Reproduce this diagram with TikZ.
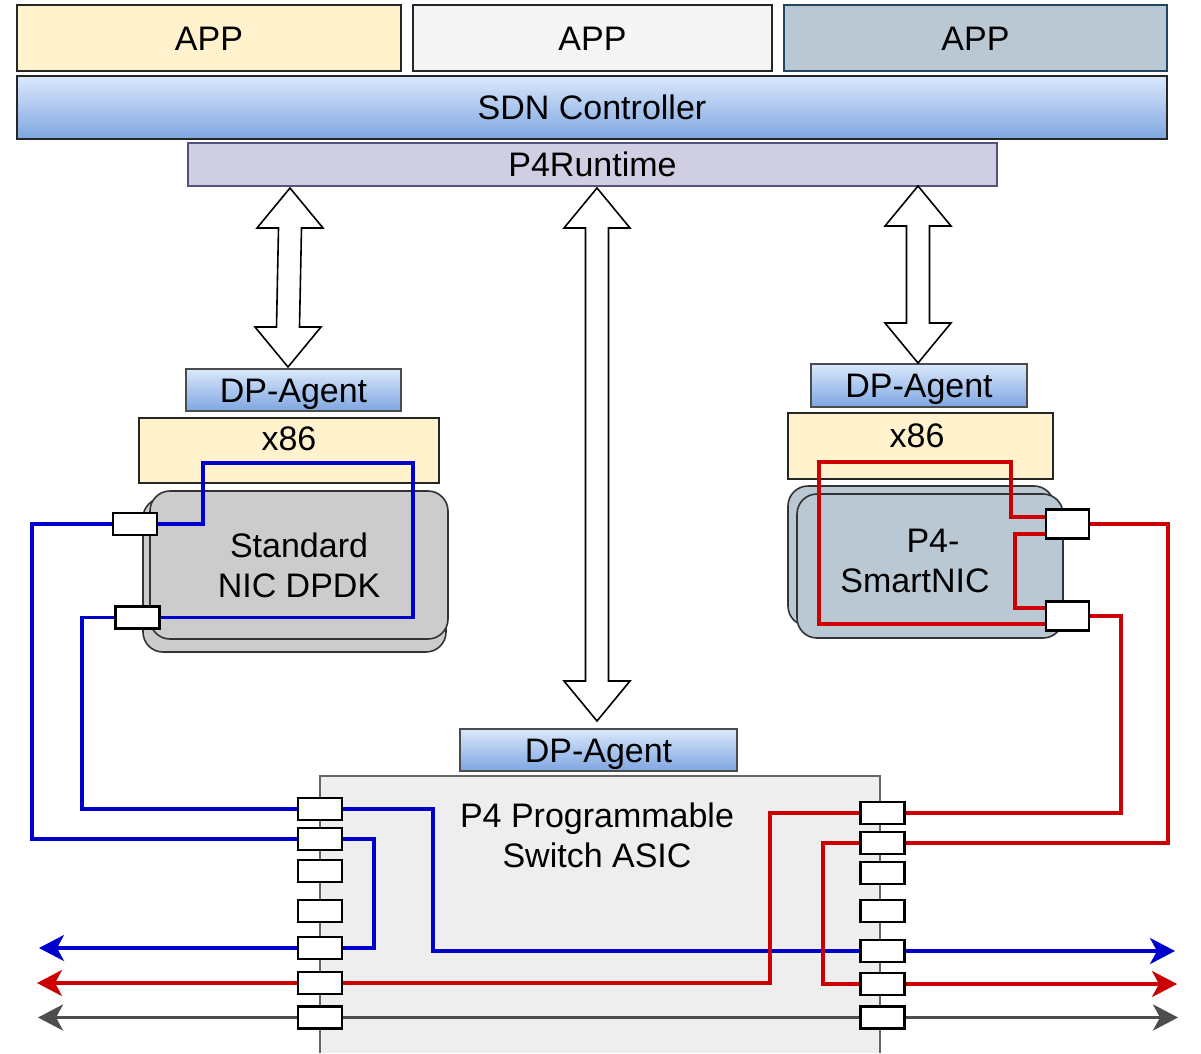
\documentclass[tikz,border=0pt]{standalone}
\usepackage{fontspec}
\setmainfont{Liberation Sans}
\usetikzlibrary{arrows.meta,calc}
\pgfdeclarelayer{front}
\pgfsetlayers{main,front}
\definecolor{appyellow}{HTML}{FFF2CC}
\definecolor{appwhite}{HTML}{F5F5F5}
\definecolor{appblue}{HTML}{BAC8D3}
\definecolor{appblueb}{HTML}{23445D}
\definecolor{gradtop}{HTML}{DAE8FC}
\definecolor{gradbot}{HTML}{7EA6E0}
\definecolor{rtfill}{HTML}{D0CEE2}
\definecolor{rtdraw}{HTML}{56517E}
\definecolor{nicgray}{HTML}{CCCCCC}
\definecolor{swfill}{HTML}{EEEEEE}
\definecolor{swdraw}{HTML}{666666}
\definecolor{lnblue}{HTML}{0000CC}
\definecolor{lnred}{HTML}{CC0000}
\definecolor{lngray}{HTML}{4D4D4D}
\begin{document}
\begin{tikzpicture}[x=1pt,y=-1pt,
  every node/.style={inner sep=0pt, outer sep=0pt, font=\fontsize{34}{40}\selectfont},
  box/.style={draw=black!85, line width=1.6pt, text height=24.3pt, text depth=0pt},
  agent/.style={box, draw=black!70, top color=gradtop, bottom color=gradbot},
  nicbox/.style={draw=black!80, line width=1.6pt, rounded corners=20pt},
  port/.style={draw=black, line width=2.2pt, fill=white, minimum width=44pt, minimum height=22pt},
  bigport/.style={port, minimum width=43pt, minimum height=29pt},
  blueline/.style={draw=lnblue, line width=3.5pt},
  redline/.style={draw=lnred, line width=3.5pt},
  grayline/.style={draw=lngray, line width=3.5pt},
  blockarrow/.style={draw=black, line width=1.6pt, fill=white, line join=miter},
  hd/.tip={Stealth[length=25pt,width=26pt,inset=7pt]}]
\useasboundingbox (0,0) rectangle (1201,1053);

% top layer
\node[box, fill=appyellow, minimum width=384pt, minimum height=66pt] (app1) at (209,38) {APP};
\node[box, fill=appwhite, minimum width=359pt, minimum height=66pt] (app2) at (592.5,38) {APP};
\node[box, draw=appblueb, fill=appblue, minimum width=383pt, minimum height=66pt] (app3) at (975.5,38) {APP};
\node[box, top color=gradtop, bottom color=gradbot, minimum width=1150pt, minimum height=63pt] (sdn) at (592,107.5) {SDN Controller};
\node[box, draw=rtdraw, fill=rtfill, minimum width=809pt, minimum height=43pt] (p4rt) at (592.5,164.5) {P4Runtime};

% agents and hosts
\node[agent, minimum width=215pt, minimum height=42pt] (dpL) at (293.5,390) {DP-Agent};
\node[box, fill=appyellow, minimum width=300pt, minimum height=65pt] (x86L) at (289,450.5) {};
\node[text height=24.3pt, text depth=0pt] (x86Ltxt) at (289,438.5) {x86};
\node[agent, minimum width=216pt, minimum height=43pt] (dpR) at (919,385.5) {DP-Agent};
\node[box, fill=appyellow, minimum width=265pt, minimum height=66pt] (x86R) at (920.5,446) {};
\node[text height=24.3pt, text depth=0pt] (x86Rtxt) at (917,435) {x86};
\node[agent, minimum width=277pt, minimum height=42pt] (dpS) at (598.5,750) {DP-Agent};

% NICs
\node[nicbox, fill=nicgray, minimum width=303pt, minimum height=154pt] (nicLb) at (294.5,575) {};
\node[nicbox, fill=nicgray, minimum width=298pt, minimum height=148pt, align=center] (nicL) at (299,565) {Standard\\NIC DPDK};
\node[nicbox, fill=appblue, minimum width=266pt, minimum height=140pt] (nicRb) at (921,556) {};
\node[nicbox, fill=appblue, minimum width=266pt, minimum height=144pt] (nicR) at (930,566) {};
\node[align=center] (nicRtxt) at (915,561) {\hspace*{36pt}P4-\\SmartNIC};

% switch
\fill[swfill] (320,1053) rectangle (880,776);
\draw[swdraw, line width=1.5pt] (320,1053) -- (320,776) -- (880,776) -- (880,1053);
\node[align=center] (swtxt) at (597,835) {P4 Programmable\\Switch ASIC};

% block double arrows
\coordinate (aL1) at (290,188); \coordinate (aL2) at (288,367);
\coordinate (aM1) at (597,188); \coordinate (aM2) at (597,721);
\coordinate (aR1) at (918,186); \coordinate (aR2) at (918,363);
\foreach \a/\b in {aL1/aL2, aM1/aM2, aR1/aR2}{
  \draw[blockarrow] let \p1=(\a), \p2=(\b) in
    (\x1,\y1) -- (\x1+33pt,\y1-40pt) -- (\x1+11.5pt,\y1-40pt) -- (\x2+11.5pt,\y2+40pt)
    -- (\x2+33pt,\y2+40pt) -- (\x2,\y2) -- (\x2-33pt,\y2+40pt) -- (\x2-11.5pt,\y2+40pt)
    -- (\x1-11.5pt,\y1-40pt) -- (\x1-33pt,\y1-40pt) -- cycle;
}

% ports (on the front layer, above the links)
\begin{pgfonlayer}{front}
\node[port] (np1) at (135,524) {};
\node[port] (np2) at (137.5,617.5) {};
\node[bigport] (sp1) at (1067.5,524) {};
\node[bigport] (sp2) at (1067.5,616) {};
\foreach \i/\y in {1/809,2/839,3/871,4/911,5/948,6/983,7/1017.5}
  \node[port] (lp\i) at (320,\y) {};
\foreach \i/\y in {1/813,2/843,3/873,4/911,5/951,6/984,7/1017.5}
  \node[port] (rp\i) at (882.5,\y) {};
\end{pgfonlayer}

% blue links
\draw[blueline] (lp1.west) -- ++(-216,0) |- (np2.west);
\draw[blueline] (lp2.west) -- ++(-266,0) |- (np1.west);
\draw[blueline] (np1.east) -| (203,463) -- (413,463) |- (np2.east);
\draw[blueline,-hd] (lp1.east) -| (433,951) -- (1175,951);
\draw[blueline,-hd] (lp2.east) -| (374,948) -- (39,948);

% red links
\draw[redline,hd-] (37,983) -- (770,983) |- (rp1.west);
\draw[redline] (rp1.east) -| (1121,616) -- (sp2.east);
\draw[redline] (rp2.east) -| (1168,524) -- (sp1.east);
\draw[redline,-hd] (rp2.west) -| (823,984) -- (1177,984);
\draw[redline] ([yshift=7pt]sp1.west) -| (1011,462) -| (819,624) -- ([yshift=-8pt]sp2.west);
\draw[redline] ([yshift=-10pt]sp1.west) -| (1015,608) -- ([yshift=8pt]sp2.west);

% gray link
\draw[grayline,hd-hd] (38,1017.5) -- (1178,1017.5);
\end{tikzpicture}
\end{document}
